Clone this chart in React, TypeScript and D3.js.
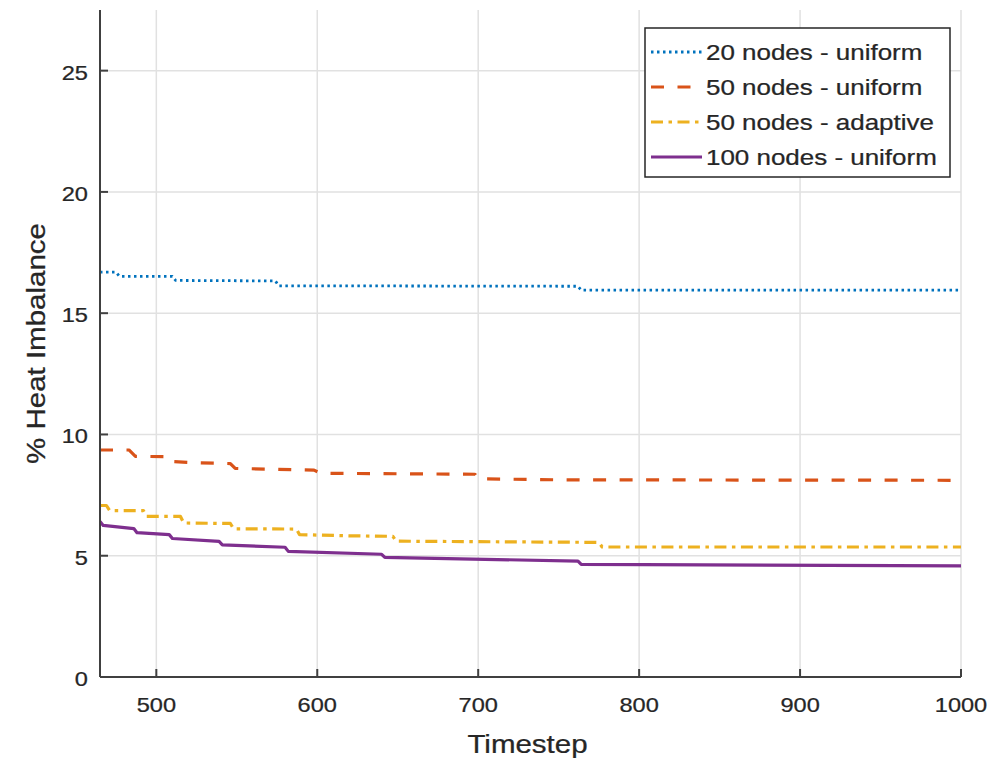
import React from "react";
import * as d3 from "d3";

// timestep / % heat imbalance pairs (step-like series)
const series20Uniform: [number, number][] = [
  [465, 16.69], [475, 16.69], [477, 16.52], [510, 16.52], [512, 16.35],
  [574, 16.33], [576, 16.13], [762, 16.11], [764, 15.95], [1000, 15.95],
];
const series50Uniform: [number, number][] = [
  [465, 9.36], [483, 9.36], [487, 9.1], [508, 9.08], [510, 8.88], [525, 8.83],
  [546, 8.8], [549, 8.6], [570, 8.57], [598, 8.53], [602, 8.4], [698, 8.36],
  [700, 8.17], [750, 8.13], [1000, 8.11],
];
const series50Adaptive: [number, number][] = [
  [465, 7.07], [469, 7.07], [471, 6.86], [492, 6.86], [494, 6.62], [515, 6.62],
  [517, 6.35], [546, 6.33], [548, 6.11], [587, 6.1], [589, 5.87], [620, 5.82],
  [647, 5.8], [649, 5.6], [775, 5.55], [777, 5.36], [1000, 5.36],
];
const series100Uniform: [number, number][] = [
  [465, 6.41], [467, 6.25], [486, 6.12], [488, 5.95], [508, 5.87], [510, 5.71],
  [539, 5.59], [541, 5.45], [580, 5.35], [582, 5.18], [640, 5.06], [642, 4.93],
  [762, 4.78], [764, 4.64], [1000, 4.58],
];

const legendLabels = [
  "20 nodes - uniform",
  "50 nodes - uniform",
  "50 nodes - adaptive",
  "100 nodes - uniform",
];
const xTicks = [500, 600, 700, 800, 900, 1000];
const yTicks = [0, 5, 10, 15, 20, 25];

const seriesList = [
  { data: series20Uniform, color: "#0072BD", width: 2.8, dash: "2.5 3.5" },
  { data: series50Uniform, color: "#D95319", width: 3.2, dash: "13 13.5" },
  { data: series50Adaptive, color: "#EDB120", width: 3.2, dash: "12 5.5 3.5 5.5" },
  { data: series100Uniform, color: "#7E2F8E", width: 3.2, dash: "none" },
];

const FONT = "'Liberation Sans', Arial, sans-serif";
const TEXT = "#262626";
const SX = 1.18; // the original text renders wide

const Label = ({ x, y, size, anchor = "middle", rotate = 0, children }: any) => (
  <text
    transform={`translate(${x},${y}) rotate(${rotate}) scale(${SX},1)`}
    fontFamily={FONT}
    fontSize={size}
    fill={TEXT}
    stroke={TEXT}
    strokeWidth={0.25}
    textAnchor={anchor}
  >
    {children}
  </text>
);

export default function App() {
  const W = 990;
  const H = 764;
  const left = 100, right = 961, top = 10, bottom = 677;

  const x = d3.scaleLinear().domain([465, 1000]).range([left, right]);
  const y = d3.scaleLinear().domain([0, 27.5]).range([bottom, top]);

  const line = d3
    .line<[number, number]>()
    .x((d) => x(d[0]))
    .y((d) => y(d[1]));

  const legend = { x: 645, y: 28, w: 305, h: 149 };
  const rowY = (i: number) => 52 + i * 35;

  return (
    <div style={{ position: "absolute", left: 0, top: 0 }}>
      <svg width={W} height={H} style={{ display: "block", background: "#fff" }}>
        <defs>
          <clipPath id="plot">
            <rect x={left} y={top} width={right - left} height={bottom - top} />
          </clipPath>
        </defs>

        {/* grid */}
        {xTicks.map((t) => (
          <line key={"gx" + t} x1={x(t)} x2={x(t)} y1={top} y2={bottom} stroke="#e1e1e1" strokeWidth={1.5} />
        ))}
        {yTicks.map((t) => (
          <line key={"gy" + t} x1={left} x2={right} y1={y(t)} y2={y(t)} stroke="#e1e1e1" strokeWidth={1.5} />
        ))}

        {/* series */}
        <g clipPath="url(#plot)">
          {seriesList.map((s, i) => (
            <path
              key={i}
              d={line(s.data) || ""}
              fill="none"
              stroke={s.color}
              strokeWidth={s.width}
              strokeDasharray={s.dash}
              strokeLinejoin="round"
            />
          ))}
        </g>

        {/* axes */}
        <line x1={left} x2={right} y1={bottom} y2={bottom} stroke="#404040" strokeWidth={2} />
        <line x1={left} x2={left} y1={top} y2={bottom} stroke="#404040" strokeWidth={2} />
        {xTicks.map((t) => (
          <g key={"tx" + t}>
            <line x1={x(t)} x2={x(t)} y1={bottom} y2={bottom - 8} stroke="#404040" strokeWidth={2} />
            <Label x={x(t)} y={bottom + 35} size={20}>{t}</Label>
          </g>
        ))}
        {yTicks.map((t) => (
          <g key={"ty" + t}>
            <line x1={left} x2={left + 8} y1={y(t)} y2={y(t)} stroke="#404040" strokeWidth={2} />
            <Label x={left - 12} y={y(t) + 9} size={20} anchor="end">{t}</Label>
          </g>
        ))}

        <Label x={(left + right) / 2 - 3} y={753} size={25}>Timestep</Label>
        <Label x={45} y={(top + bottom) / 2} size={25} rotate={-90}>% Heat Imbalance</Label>

        {/* legend */}
        <rect x={legend.x} y={legend.y} width={legend.w} height={legend.h} fill="#fff" stroke="#262626" strokeWidth={1.5} />
        {seriesList.map((s, i) => (
          <g key={"lg" + i}>
            <line
              x1={651}
              x2={702}
              y1={rowY(i)}
              y2={rowY(i)}
              stroke={s.color}
              strokeWidth={s.width}
              strokeDasharray={s.dash}
            />
            <Label x={706} y={rowY(i) + 8} size={22} anchor="start">{legendLabels[i]}</Label>
          </g>
        ))}
      </svg>
    </div>
  );
}
